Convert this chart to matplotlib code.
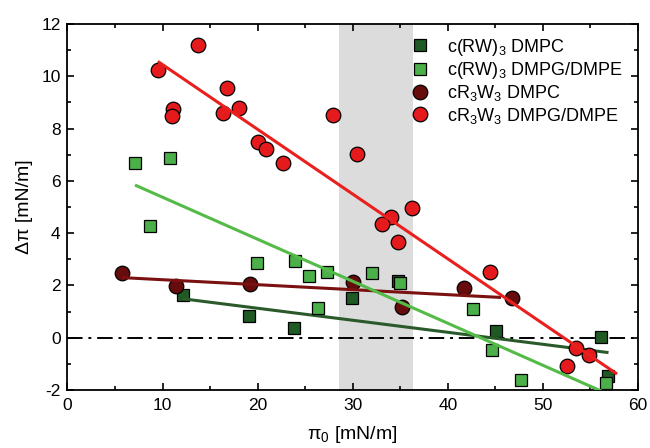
import matplotlib
matplotlib.use("Agg")
import matplotlib.pyplot as plt
import numpy as np
from matplotlib.ticker import MultipleLocator

plt.rcParams['font.family'] = ['Liberation Sans', 'DejaVu Sans']
plt.rcParams['mathtext.fontset'] = 'custom'
plt.rcParams['mathtext.rm'] = 'Liberation Sans'
plt.rcParams['mathtext.it'] = 'Liberation Sans'
plt.rcParams['mathtext.default'] = 'regular'
plt.rcParams['axes.unicode_minus'] = False

# c(RW)3 DMPC (dark green squares)
rw_dmpc_x = [12.1, 19.1, 23.8, 29.9, 34.8, 45.1, 56.1, 56.8]
rw_dmpc_y = [1.64, 0.82, 0.38, 1.53, 2.18, 0.26, 0.04, -1.46]
rw_dmpc_fit_x = [12.1, 56.9]
rw_dmpc_fit_y = [1.49, -0.57]

# c(RW)3 DMPG/DMPE (light green squares)
rw_pg_x = [7.1, 10.8, 8.7, 19.9, 23.9, 25.4, 27.3, 26.4, 32.0, 35.0, 42.6, 44.6, 47.7, 56.6]
rw_pg_y = [6.68, 6.86, 4.28, 2.86, 2.93, 2.37, 2.51, 1.13, 2.46, 2.10, 1.10, -0.47, -1.61, -1.72]
rw_pg_fit_x = [7.1, 57.0]
rw_pg_fit_y = [5.84, -2.18]

# cR3W3 DMPC (maroon circles)
r3_dmpc_x = [5.7, 11.4, 19.2, 30.0, 35.2, 41.7, 46.8]
r3_dmpc_y = [2.47, 1.97, 2.04, 2.14, 1.16, 1.91, 1.50]
r3_dmpc_fit_x = [5.7, 45.6]
r3_dmpc_fit_y = [2.30, 1.54]

# cR3W3 DMPG/DMPE (red circles)
r3_pg_x = [13.7, 9.55, 16.8, 11.1, 11.0, 16.4, 18.0, 27.9, 20.0, 20.9, 22.7, 30.4,
           36.2, 34.0, 33.1, 34.8, 44.4, 53.5, 54.8, 52.5]
r3_pg_y = [11.2, 10.24, 9.56, 8.73, 8.47, 8.59, 8.77, 8.53, 7.47, 7.23, 6.67, 7.02,
           4.98, 4.62, 4.34, 3.66, 2.50, -0.38, -0.66, -1.10]
r3_pg_fit_x = [9.5, 57.8]
r3_pg_fit_y = [10.57, -1.39]

band = (28.6, 36.3)

labels = ['c(RW)$_3$ DMPC', 'c(RW)$_3$ DMPG/DMPE', 'cR$_3$W$_3$ DMPC', 'cR$_3$W$_3$ DMPG/DMPE']

c_dkgreen = '#1f5a24'
c_ltgreen = '#4cb04a'
c_maroon = '#660c0c'
c_red = '#e41a1c'
l_dkgreen = '#2a5a2a'
l_ltgreen = '#55bb48'
l_maroon = '#7a1010'
l_red = '#e8201e'

fig = plt.figure(figsize=(6.5, 4.48), dpi=100)
ax = fig.add_axes([0.1038, 0.1295, 0.8777, 0.8169])

ax.axvspan(band[0], band[1], color='#dcdcdc', zorder=0, lw=0)
ax.axhline(0, color='black', lw=1.4, ls=(0, (8, 3, 1.5, 3)), zorder=1)

ax.plot(rw_dmpc_x, rw_dmpc_y, ls='none', marker='s', ms=9, mfc=c_dkgreen, mec='black', mew=0.9, zorder=2, label=labels[0])
ax.plot(rw_dmpc_fit_x, rw_dmpc_fit_y, color=l_dkgreen, lw=2.2, zorder=2.5, solid_capstyle='butt')
ax.plot(rw_pg_x, rw_pg_y, ls='none', marker='s', ms=9, mfc=c_ltgreen, mec='black', mew=0.9, zorder=3, label=labels[1])
ax.plot(r3_dmpc_x, r3_dmpc_y, ls='none', marker='o', ms=10.5, mfc=c_maroon, mec='black', mew=0.9, zorder=3, label=labels[2])
ax.plot(r3_pg_x, r3_pg_y, ls='none', marker='o', ms=10.5, mfc=c_red, mec='black', mew=0.9, zorder=3, label=labels[3])
ax.plot(r3_dmpc_fit_x, r3_dmpc_fit_y, color=l_maroon, lw=2.2, zorder=4, solid_capstyle='butt')
ax.plot(rw_pg_fit_x, rw_pg_fit_y, color=l_ltgreen, lw=2.2, zorder=4.5, solid_capstyle='butt')
ax.plot(r3_pg_fit_x, r3_pg_fit_y, color=l_red, lw=2.2, zorder=5, solid_capstyle='butt')

ax.set_xlim(0, 60)
ax.set_ylim(-2, 12)
ax.xaxis.set_major_locator(MultipleLocator(10))
ax.xaxis.set_minor_locator(MultipleLocator(5))
ax.yaxis.set_major_locator(MultipleLocator(2))
ax.yaxis.set_minor_locator(MultipleLocator(1))
ax.tick_params(which='both', direction='in', top=True, right=True, labelsize=12.5, width=1.2)
ax.tick_params(which='major', length=5)
ax.tick_params(which='minor', length=3)
ax.tick_params(axis='x', pad=6)
ax.tick_params(axis='y', pad=5)
for s in ax.spines.values():
    s.set_linewidth(1.3)

ax.set_xlabel('π$_0$ [mN/m]', fontsize=14, labelpad=8)
ax.set_ylabel('Δπ [mN/m]', fontsize=14, labelpad=6)

leg = ax.legend(loc='upper right', frameon=False, fontsize=13, handlelength=1.0,
                handletextpad=1.0, labelspacing=0.13, borderaxespad=0.3,
                bbox_to_anchor=(0.995, 1.0))

fig.savefig('out.png', dpi=100)
